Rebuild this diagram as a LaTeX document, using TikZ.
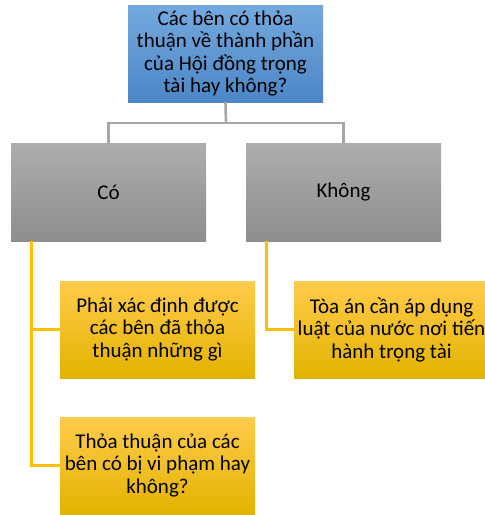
\documentclass[tikz,border=0pt]{standalone}
\usepackage{fontspec}
\setmainfont{Carlito}
\definecolor{blueT}{HTML}{74A9DE}
\definecolor{blueB}{HTML}{4C86C6}
\definecolor{grayT}{HTML}{ADADAD}
\definecolor{grayB}{HTML}{8E8E8E}
\definecolor{orT}{HTML}{FFCB4C}
\definecolor{orB}{HTML}{E2B300}
\definecolor{grayline}{HTML}{A6A6A6}
\definecolor{orline}{HTML}{FFC000}
\tikzset{
  box/.style={rectangle, minimum width=195pt, minimum height=97pt, inner sep=0pt, align=center,
    font=\fontsize{21}{22.5}\selectfont, text=black},
  bluebox/.style={box, top color=blueT, bottom color=blueB},
  graybox/.style={box, top color=grayT, bottom color=grayB},
  orbox/.style={box, top color=orT, bottom color=orB},
  gline/.style={draw=grayline, line width=2.6pt},
  oline/.style={draw=orline, line width=2.6pt}
}
\begin{document}
\begin{tikzpicture}[x=1pt,y=-1pt]
\useasboundingbox (0,0) rectangle (485,515);
\clip (0,0) rectangle (485,515);
\node[bluebox, minimum height=97pt] (top) at (225.5,53.5) {Các bên có thỏa\\thuận về thành phần\\của Hội đồng trọng\\tài hay không?};
\node[graybox, minimum height=98pt] (co) at (108.5,192) {Có};
\node[graybox, minimum height=98pt] (khong) at (343.5,192) {Không};
\node[orbox] (a1) at (157.5,329.5) {Phải xác định được\\các bên đã thỏa\\thuận những gì};
\node[orbox] (a2) at (157.5,465.5) {Thỏa thuận của các\\bên có bị vi phạm hay\\không?};
\node[orbox] (b1) at (391.5,329.5) {Tòa án cần áp dụng\\luật của nước nơi tiến\\hành trọng tài};
\coordinate (mid) at (226,123);
\draw[gline] (top.south) -- (mid);
\draw[gline] (co.north) |- (mid) -| (khong.north);
\draw[oline] ([xshift=-77pt]co.south) |- (a1.west);
\draw[oline] ([xshift=-77pt]co.south) |- (a2.west);
\draw[oline] ([xshift=-77pt]khong.south) |- (b1.west);
\end{tikzpicture}
\end{document}
